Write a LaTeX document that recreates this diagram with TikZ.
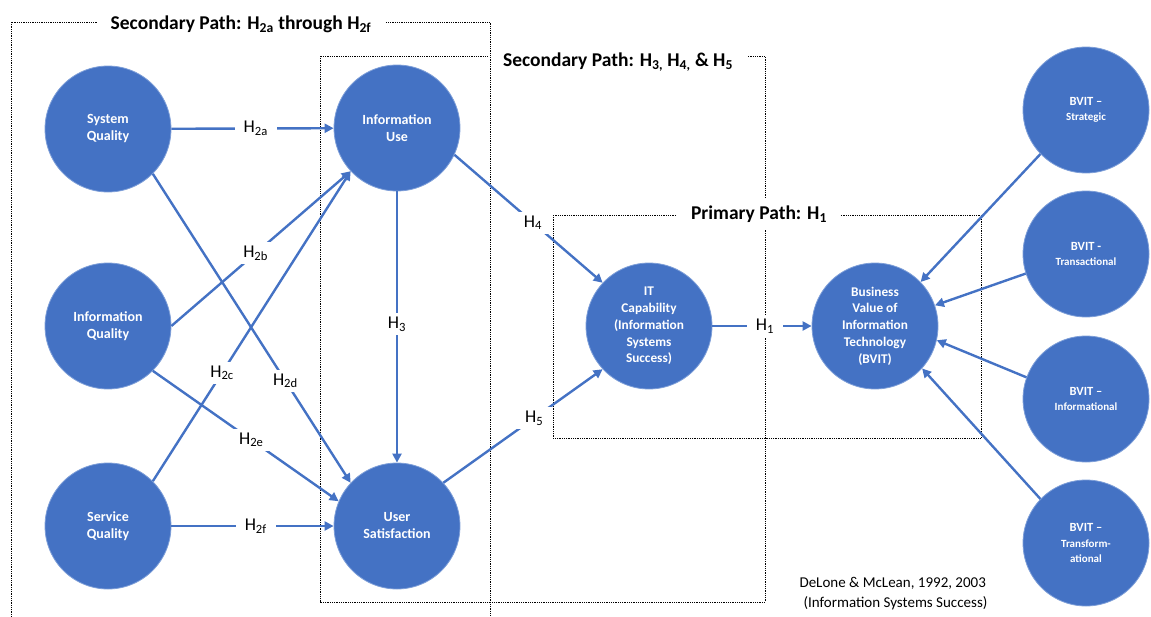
\documentclass[tikz,border=0pt]{standalone}
\usepackage{fontspec}
\setmainfont{Carlito}
\usetikzlibrary{arrows.meta}
\definecolor{ofblue}{RGB}{68,114,196}
\definecolor{ofedge}{RGB}{125,158,216}
\newcommand\subdimfont{\fontsize{11}{15}\selectfont}

\begin{document}
\begin{tikzpicture}[x=1pt,y=-1pt,
  construct/.style={circle, fill=ofblue, draw=ofedge, line width=0.8pt,
    minimum size=126pt, inner sep=0pt, text=white, align=center,
    font=\bfseries\fontsize{14}{17}\selectfont},
  dimension/.style={construct, font=\bfseries\fontsize{12.5}{15.5}\selectfont},
  link/.style={draw=ofblue, line width=2.4pt, -{Triangle[length=9pt,width=9pt]}},
  hyp/.style={fill=white, inner xsep=9pt, inner ysep=4pt, text=black,
    font=\fontsize{18}{20}\selectfont},
  pathbox/.style={draw=black, line width=0.8pt, dash pattern=on 0.9pt off 0.9pt},
  pathtitle/.style={fill=white, inner xsep=14pt, inner ysep=8pt,
    font=\bfseries\fontsize{19.5}{22}\selectfont},
]
\useasboundingbox (0,0) rectangle (1151,616);
\clip (0,0) rectangle (1151,616);

% dotted frames of the three paths, each with its title
\draw[pathbox] (320,56) rectangle (765,602);
\node[pathtitle] (t2) at (618,62) {Secondary Path: H\textsubscript{3,} H\textsubscript{4,} \& H\textsubscript{5}};
\draw[pathbox] (11,22) rectangle (490,640);
\node[pathtitle] (t1) at (241,24) {Secondary Path: H\textsubscript{2a} through H\textsubscript{2f}};
\draw[pathbox] (553,215) rectangle (981,438);
\node[pathtitle] (t3) at (759,214) {Primary Path: H\textsubscript{1}};

% constructs
\node[construct] (sq) at (108,129) {System\\Quality};
\node[construct] (iq) at (108,326) {Information\\Quality};
\node[construct] (sv) at (108,526) {Service\\Quality};
\node[construct] (iu) at (397,128) {Information\\Use};
\node[construct] (us) at (397,526) {User\\Satisfaction};
\node[construct, font=\bfseries\fontsize{13.3}{16.7}\selectfont] (it) at (649,326)
  {IT\\Capability\\(Information\\Systems\\Success)};
\node[construct, font=\bfseries\fontsize{13.3}{16.7}\selectfont] (bv) at (875,326)
  {Business\\Value of\\Information\\Technology\\(BVIT)};

% BVIT dimensions
\node[dimension] (st) at (1086,110) {BVIT --\\{\subdimfont Strategic}};
\node[dimension] (tr) at (1086,254) {BVIT -\\{\subdimfont Transactional}};
\node[dimension] (inf) at (1086,399) {BVIT --\\{\subdimfont Informational}};
\node[dimension] (tf) at (1086,543) {BVIT --\\{\subdimfont Transform-}\\{\subdimfont ational}};

% hypothesised paths
\draw[link] (sq) -- node[hyp, pos=.52] (h2a) {H\textsubscript{2a}} (iu);
\draw[link] (iq.0) -- node[hyp, pos=.47] (h2b) {H\textsubscript{2b}} (iu.223);
\draw[link] (sv.45) -- node[hyp, pos=.35] (h2c) {H\textsubscript{2c}} (iu.223);
\draw[link] (sq.315) -- node[hyp, pos=.67] (h2d) {H\textsubscript{2d}} (us.137);
\draw[link] (iq.315) -- node[hyp, pos=.53] (h2e) {H\textsubscript{2e}} (us.157);
\draw[link] (sv) -- node[hyp, pos=.52] (h2f) {H\textsubscript{2f}} (us);
\draw[link] (iu) -- node[hyp, pos=.49] (h3) {H\textsubscript{3}} (us);
\draw[link] (iu.335) -- node[hyp, pos=.53] (h4) {H\textsubscript{4}} (it.137);
\draw[link] (us.43) -- node[hyp, pos=.57] (h5) {H\textsubscript{5}} (it.223);
\draw[link] (it) -- node[hyp, pos=.53] (h1) {H\textsubscript{1}} (bv);

\draw[link] (st.224) -- (bv.44);
\draw[link] (tr.198) -- (bv.19);
\draw[link] (inf.160) -- (bv.-13);
\draw[link] (tf.136) -- (bv.-42);

% source note
\node[font=\fontsize{15}{18}\selectfont, anchor=west] (cite1) at (796,583) {DeLone \& McLean, 1992, 2003};
\node[font=\fontsize{15}{18}\selectfont, anchor=west] (cite2) at (800,603) {(Information Systems Success)};
\end{tikzpicture}
\end{document}
